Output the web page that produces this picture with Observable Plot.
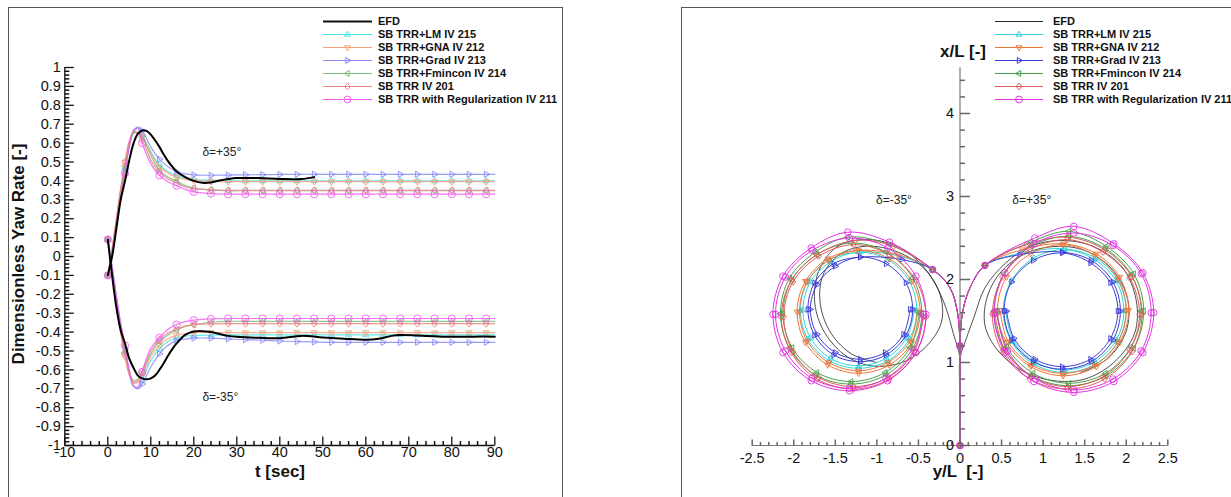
<!DOCTYPE html>
<html><head><meta charset="utf-8">
<script src="https://cdn.jsdelivr.net/npm/d3@7"></script>
<script src="https://cdn.jsdelivr.net/npm/@observablehq/plot@0.6"></script>
<style>
body{margin:0;background:#fff;font-family:"Liberation Sans",Arial,sans-serif;}
#root{position:relative;width:1231px;height:497px;overflow:hidden;background:#fff;}
.frame{position:absolute;border:1.3px solid #555;box-sizing:border-box;}
.pl{position:absolute;}
.ttl{position:absolute;font-weight:bold;font-size:17px;color:#111;white-space:pre;transform:translate(-50%,-50%);}
</style></head><body><div id="root"></div>
<script>
// ---------------- DATA ----------------
const seriesNames = ["EFD","SB TRR+LM IV 215","SB TRR+GNA IV 212","SB TRR+Grad IV 213","SB TRR+Fmincon IV 214","SB TRR IV 201","SB TRR with Regularization IV 211"];

// time grid for model yaw-rate curves [sec]
const tGrid = [0,1,2,3,4,5,6,7,8,9,10,12,14,16,18,20,24,28,32,36,40,44,48,52,56,60,64,68,72,76,80,84,88,90];
const lmPos   = [-0.1,0.03,0.18,0.33,0.47,0.59,0.665,0.675,0.645,0.6,0.555,0.485,0.45,0.43,0.415,0.408,0.402,0.4,0.4,0.4,0.4,0.4,0.4,0.4,0.4,0.4,0.4,0.4,0.4,0.4,0.4,0.4,0.4,0.4];
const gnaPos  = [-0.1,0.04,0.2,0.36,0.5,0.61,0.66,0.655,0.635,0.595,0.55,0.475,0.44,0.42,0.408,0.401,0.397,0.396,0.396,0.396,0.396,0.396,0.396,0.396,0.396,0.396,0.396,0.396,0.396,0.396,0.396,0.396,0.396,0.396];
const gradPos = [-0.1,0.02,0.17,0.32,0.46,0.58,0.66,0.685,0.665,0.625,0.58,0.515,0.475,0.447,0.437,0.432,0.43,0.431,0.432,0.433,0.434,0.435,0.435,0.435,0.435,0.435,0.435,0.435,0.435,0.435,0.435,0.435,0.435,0.435];
const fminPos = [-0.1,0.03,0.19,0.34,0.48,0.59,0.65,0.655,0.63,0.585,0.535,0.455,0.42,0.4,0.375,0.362,0.352,0.348,0.348,0.348,0.348,0.348,0.348,0.348,0.348,0.348,0.348,0.348,0.348,0.348,0.348,0.348,0.348,0.348];
const trrPos  = [-0.1,0.04,0.2,0.36,0.5,0.61,0.66,0.65,0.615,0.565,0.51,0.445,0.41,0.39,0.368,0.36,0.352,0.35,0.35,0.35,0.35,0.35,0.35,0.35,0.35,0.35,0.35,0.35,0.35,0.35,0.35,0.35,0.35,0.35];
const regPos  = [-0.1,0.02,0.16,0.31,0.44,0.58,0.67,0.68,0.6,0.54,0.49,0.43,0.395,0.375,0.355,0.342,0.333,0.33,0.33,0.33,0.33,0.33,0.33,0.33,0.33,0.33,0.33,0.33,0.33,0.33,0.33,0.33,0.33,0.33];
const lmNeg   = [0.09,-0.06,-0.22,-0.37,-0.5,-0.62,-0.69,-0.695,-0.655,-0.6,-0.55,-0.49,-0.45,-0.43,-0.422,-0.418,-0.416,-0.415,-0.415,-0.415,-0.415,-0.415,-0.415,-0.415,-0.415,-0.415,-0.415,-0.415,-0.415,-0.415,-0.415,-0.415,-0.415,-0.415];
const gnaNeg  = [0.09,-0.08,-0.25,-0.41,-0.53,-0.63,-0.67,-0.665,-0.63,-0.58,-0.53,-0.47,-0.435,-0.418,-0.408,-0.403,-0.402,-0.403,-0.403,-0.403,-0.403,-0.403,-0.403,-0.403,-0.403,-0.403,-0.403,-0.403,-0.403,-0.403,-0.403,-0.403,-0.403,-0.403];
const gradNeg = [0.09,-0.05,-0.21,-0.36,-0.49,-0.61,-0.685,-0.7,-0.675,-0.63,-0.585,-0.515,-0.47,-0.445,-0.437,-0.432,-0.432,-0.436,-0.44,-0.443,-0.447,-0.45,-0.452,-0.454,-0.454,-0.454,-0.454,-0.454,-0.454,-0.454,-0.454,-0.454,-0.454,-0.454];
const fminNeg = [0.09,-0.07,-0.24,-0.39,-0.51,-0.61,-0.655,-0.65,-0.615,-0.565,-0.515,-0.45,-0.415,-0.39,-0.37,-0.36,-0.348,-0.343,-0.343,-0.343,-0.343,-0.343,-0.343,-0.343,-0.343,-0.343,-0.343,-0.343,-0.343,-0.343,-0.343,-0.343,-0.343,-0.343];
const trrNeg  = [0.09,-0.08,-0.25,-0.4,-0.52,-0.62,-0.665,-0.655,-0.61,-0.55,-0.5,-0.44,-0.405,-0.385,-0.368,-0.36,-0.356,-0.355,-0.355,-0.355,-0.355,-0.355,-0.355,-0.355,-0.355,-0.355,-0.355,-0.355,-0.355,-0.355,-0.355,-0.355,-0.355,-0.355];
const regNeg  = [0.09,-0.06,-0.21,-0.35,-0.47,-0.6,-0.685,-0.69,-0.61,-0.54,-0.485,-0.43,-0.385,-0.36,-0.345,-0.337,-0.33,-0.328,-0.328,-0.328,-0.328,-0.328,-0.328,-0.328,-0.328,-0.328,-0.328,-0.328,-0.328,-0.328,-0.328,-0.328,-0.328,-0.328];

// EFD yaw rate
const efdPosT = [0,1,2,3,4,5,6,7,8,9,10,11,12,13,14,15,16,18,20,22,24,26,28,30,35,40,45,48];
const efdPos  = [-0.1,0,0.15,0.3,0.4,0.51,0.6,0.65,0.667,0.665,0.645,0.615,0.58,0.54,0.505,0.475,0.45,0.42,0.4,0.39,0.392,0.402,0.41,0.415,0.415,0.41,0.41,0.42];
const efdNegT = [0,1,2,3,4,5,6,7,8,9,10,11,12,13,14,15,16,18,20,22,24,26,28,30,35,40,45,50,55,60,63,66,68,72,76,80,85,90];
const efdNeg  = [0.09,-0.1,-0.27,-0.39,-0.46,-0.54,-0.59,-0.63,-0.645,-0.65,-0.645,-0.63,-0.6,-0.565,-0.525,-0.49,-0.46,-0.415,-0.397,-0.395,-0.4,-0.41,-0.42,-0.425,-0.43,-0.432,-0.42,-0.428,-0.435,-0.44,-0.435,-0.42,-0.415,-0.418,-0.422,-0.425,-0.424,-0.424];

// trajectories "y/L,x/L" pairs
const trajEfdPos  = "0,0 0,0.6 0,1.05 0.08,1.3 0.17,1.55 0.3,1.9 0.55,2.2 0.85,2.4 1.21,2.47 1.6,2.4 1.95,2.15 2.12,1.75 2.1,1.35 1.85,1 1.5,0.8 1.13,0.78 0.75,0.9 0.45,1.15 0.3,1.45 0.33,1.8 0.5,2.1 0.8,2.32 1.2,2.4 1.55,2.33 1.85,2.1 2.02,1.75 2,1.38 1.78,1.05 1.45,0.88";
const trajEfdNeg  = "0,0 0,0.6 0,1.05 -0.08,1.35 -0.17,1.66 -0.3,1.95 -0.5,2.22 -0.8,2.42 -1.2,2.48 -1.5,2.38 -1.7,2.1 -1.75,1.75 -1.65,1.4 -1.4,1.1 -1.07,0.96 -0.7,1 -0.4,1.2 -0.22,1.5 -0.25,1.85 -0.45,2.15 -0.8,2.35 -1.15,2.4 -1.45,2.3 -1.65,2.05 -1.68,1.7 -1.55,1.35 -1.3,1.1 -1,1";
const trajLmPos   = "0,0 0,0.6 0,1.2 0.03,1.6 0.12,1.9 0.3,2.17 0.75,2.32 1.26,2.37 1.63,2.26 1.9,1.99 2,1.62 1.9,1.25 1.63,0.98 1.26,0.88 0.89,0.98 0.62,1.25 0.52,1.62 0.62,1.99 0.89,2.26 1.26,2.36 1.62,2.24 1.88,1.98 1.97,1.62 1.88,1.27 1.62,1.01 1.26,0.91 0.9,1.01 0.64,1.27 0.55,1.62";
const trajGnaPos  = "0,0 0,0.6 0,1.2 0.03,1.6 0.12,1.9 0.3,2.17 0.75,2.36 1.24,2.43 1.64,2.31 1.92,2.03 2.03,1.63 1.92,1.24 1.64,0.95 1.24,0.84 0.85,0.95 0.56,1.24 0.45,1.63 0.56,2.03 0.85,2.31 1.24,2.42 1.62,2.29 1.9,2.01 2,1.63 1.9,1.25 1.62,0.97 1.24,0.87 0.86,0.97 0.58,1.25 0.48,1.63";
const trajGradPos = "0,0 0,0.6 0,1.2 0.03,1.6 0.12,1.9 0.3,2.17 0.72,2.3 1.23,2.33 1.58,2.23 1.84,1.97 1.93,1.62 1.84,1.27 1.58,1.01 1.23,0.92 0.88,1.01 0.62,1.27 0.53,1.62 0.62,1.97 0.88,2.23 1.23,2.32 1.57,2.2 1.81,1.96 1.9,1.62 1.81,1.29 1.57,1.04 1.23,0.95 0.9,1.04 0.65,1.29 0.56,1.62";
const trajFminPos = "0,0 0,0.6 0,1.2 0.03,1.6 0.12,1.9 0.3,2.17 0.85,2.45 1.31,2.58 1.76,2.4 2.09,2.07 2.21,1.62 2.09,1.17 1.76,0.84 1.31,0.72 0.86,0.84 0.53,1.17 0.41,1.62 0.53,2.07 0.86,2.4 1.31,2.52 1.75,2.37 2.06,2.06 2.18,1.62 2.06,1.19 1.75,0.87 1.31,0.75 0.88,0.87 0.56,1.19 0.44,1.62";
const trajTrrPos  = "0,0 0,0.6 0,1.2 0.03,1.6 0.12,1.9 0.3,2.17 0.8,2.42 1.29,2.51 1.74,2.36 2.07,2.03 2.19,1.58 2.07,1.13 1.74,0.8 1.29,0.68 0.84,0.8 0.51,1.13 0.39,1.58 0.51,2.03 0.84,2.36 1.29,2.48 1.72,2.33 2.04,2.02 2.16,1.58 2.04,1.15 1.72,0.83 1.29,0.71 0.86,0.83 0.54,1.15 0.42,1.58";
const trajRegPos  = "0,0 0,0.6 0,1.2 0.03,1.6 0.12,1.9 0.3,2.17 0.9,2.5 1.37,2.64 1.85,2.43 2.2,2.08 2.33,1.6 2.2,1.12 1.85,0.77 1.37,0.64 0.89,0.77 0.54,1.12 0.41,1.6 0.54,2.08 0.89,2.43 1.37,2.56 1.84,2.41 2.18,2.07 2.3,1.6 2.18,1.14 1.84,0.8 1.37,0.67 0.91,0.8 0.57,1.14 0.44,1.6";
const trajLmNeg   = "0,0 0,0.6 0,1.2 -0.03,1.6 -0.12,1.9 -0.33,2.12 -0.72,2.28 -1.2,2.33 -1.57,2.24 -1.83,1.98 -1.92,1.63 -1.83,1.28 -1.57,1.02 -1.22,0.93 -0.87,1.02 -0.61,1.28 -0.52,1.63 -0.61,1.98 -0.87,2.24 -1.22,2.33 -1.56,2.21 -1.8,1.97 -1.89,1.63 -1.8,1.3 -1.56,1.05 -1.22,0.96 -0.89,1.05 -0.64,1.3 -0.55,1.63";
const trajGnaNeg  = "0,0 0,0.6 0,1.2 -0.03,1.6 -0.12,1.9 -0.33,2.12 -0.75,2.3 -1.25,2.35 -1.59,2.25 -1.86,1.98 -1.96,1.61 -1.86,1.24 -1.59,0.97 -1.22,0.87 -0.85,0.97 -0.58,1.24 -0.48,1.61 -0.58,1.98 -0.85,2.25 -1.22,2.35 -1.58,2.23 -1.84,1.97 -1.93,1.61 -1.84,1.26 -1.58,1 -1.22,0.9 -0.87,1 -0.6,1.26 -0.51,1.61";
const trajGradNeg = "0,0 0,0.6 0,1.2 -0.03,1.6 -0.12,1.9 -0.33,2.12 -0.7,2.24 -1.2,2.27 -1.52,2.19 -1.75,1.96 -1.83,1.64 -1.75,1.33 -1.52,1.09 -1.2,1.01 -0.89,1.09 -0.65,1.33 -0.57,1.64 -0.65,1.96 -0.89,2.19 -1.2,2.27 -1.5,2.16 -1.72,1.94 -1.8,1.64 -1.72,1.34 -1.5,1.12 -1.2,1.04 -0.9,1.12 -0.68,1.34 -0.6,1.64";
const trajFminNeg = "0,0 0,0.6 0,1.2 -0.03,1.6 -0.12,1.9 -0.33,2.12 -0.85,2.42 -1.35,2.51 -1.74,2.33 -2.05,2.02 -2.16,1.59 -2.05,1.17 -1.74,0.85 -1.31,0.74 -0.89,0.85 -0.57,1.17 -0.46,1.59 -0.57,2.02 -0.89,2.33 -1.31,2.44 -1.72,2.3 -2.02,2 -2.13,1.59 -2.02,1.18 -1.72,0.88 -1.31,0.77 -0.9,0.88 -0.6,1.18 -0.49,1.59";
const trajTrrNeg  = "0,0 0,0.6 0,1.2 -0.03,1.6 -0.12,1.9 -0.33,2.12 -0.8,2.4 -1.26,2.47 -1.72,2.3 -2.03,1.99 -2.15,1.55 -2.03,1.12 -1.72,0.8 -1.28,0.68 -0.85,0.8 -0.53,1.12 -0.41,1.55 -0.53,1.99 -0.85,2.3 -1.28,2.42 -1.7,2.28 -2.01,1.97 -2.12,1.55 -2.01,1.13 -1.7,0.82 -1.28,0.71 -0.86,0.82 -0.55,1.13 -0.44,1.55";
const trajRegNeg  = "0,0 0,0.6 0,1.2 -0.03,1.6 -0.12,1.9 -0.33,2.12 -0.85,2.45 -1.35,2.57 -1.79,2.38 -2.13,2.04 -2.25,1.58 -2.13,1.12 -1.79,0.78 -1.33,0.66 -0.87,0.78 -0.53,1.12 -0.41,1.58 -0.53,2.04 -0.87,2.38 -1.33,2.5 -1.78,2.35 -2.1,2.03 -2.22,1.58 -2.1,1.14 -1.78,0.81 -1.33,0.69 -0.89,0.81 -0.56,1.14 -0.44,1.58";

// tick labels
const tTicks = [-10,0,10,20,30,40,50,60,70,80,90];
const yawTicks = [1,0.9,0.8,0.7,0.6,0.5,0.4,0.3,0.2,0.1,0,-0.1,-0.2,-0.3,-0.4,-0.5,-0.6,-0.7,-0.8,-0.9,-1];
const yLTicks = [-2.5,-2,-1.5,-1,-0.5,0,0.5,1,1.5,2,2.5];
const xLTicks = [0,1,2,3,4];

// ---------------- SYMBOLS ----------------
function mk(fn){ return {draw(c,size){ const r=Math.sqrt(size/Math.PI); fn(c,r); }}; }
const symTriUp = mk((c,r)=>{c.moveTo(0,-r);c.lineTo(r*0.87,r*0.5);c.lineTo(-r*0.87,r*0.5);c.closePath();});
const symTriDown = mk((c,r)=>{c.moveTo(0,r);c.lineTo(r*0.87,-r*0.5);c.lineTo(-r*0.87,-r*0.5);c.closePath();});
const symTriRight = mk((c,r)=>{c.moveTo(r,0);c.lineTo(-r*0.5,-r*0.87);c.lineTo(-r*0.5,r*0.87);c.closePath();});
const symTriLeft = mk((c,r)=>{c.moveTo(-r,0);c.lineTo(r*0.5,-r*0.87);c.lineTo(r*0.5,r*0.87);c.closePath();});
const symDiamond = mk((c,r)=>{c.moveTo(0,-r);c.lineTo(r*0.85,0);c.lineTo(0,r);c.lineTo(-r*0.85,0);c.closePath();});
const symCircle = mk((c,r)=>{c.moveTo(r,0);c.arc(0,0,r,0,2*Math.PI);});
function tickSym(dx,dy){ return {draw(c){ c.moveTo(0,0); c.lineTo(dx,dy); }}; }

const models = [
  {name:seriesNames[1], pos:lmPos,   neg:lmNeg,   tp:trajLmPos,   tn:trajLmNeg,   lc:"#4ee3e3", rc:"#2fd3d8", sym:symTriUp},
  {name:seriesNames[2], pos:gnaPos,  neg:gnaNeg,  tp:trajGnaPos,  tn:trajGnaNeg,  lc:"#f7a07c", rc:"#ee7436", sym:symTriDown},
  {name:seriesNames[3], pos:gradPos, neg:gradNeg, tp:trajGradPos, tn:trajGradNeg, lc:"#8b8bf6", rc:"#3a3ad6", sym:symTriRight},
  {name:seriesNames[4], pos:fminPos, neg:fminNeg, tp:trajFminPos, tn:trajFminNeg, lc:"#79c27c", rc:"#46a34a", sym:symTriLeft},
  {name:seriesNames[5], pos:trrPos,  neg:trrNeg,  tp:trajTrrPos,  tn:trajTrrNeg,  lc:"#ef8383", rc:"#de5a5a", sym:symDiamond},
  {name:seriesNames[6], pos:regPos,  neg:regNeg,  tp:trajRegPos,  tn:trajRegNeg,  lc:"#f45cf4", rc:"#e232e2", sym:symCircle}
];
const parse = s => s.split(" ").map(p => { const [a,b] = p.split(",").map(Number); return {y:a, x:b}; });

const FONT = "Liberation Sans, Arial, sans-serif";
const root = document.getElementById("root");

// ---------------- LEFT PLOT ----------------
const leftMarks = [];
models.forEach(m => {
  ["pos","neg"].forEach(k => {
    const rows = tGrid.map((t,i)=>({t, v:m[k][i]}));
    leftMarks.push(Plot.line(rows, {x:"t", y:"v", stroke:m.lc, strokeWidth:1.2, strokeOpacity:0.85, curve:"catmull-rom"}));
    leftMarks.push(Plot.dot(rows.filter(d=>d.t%4===0), {x:"t", y:"v", symbol:m.sym, r:3.6, stroke:m.lc, fill:"none", strokeWidth:1, strokeOpacity:0.9}));
  });
});
leftMarks.push(Plot.line(efdPosT.map((t,i)=>({t, v:efdPos[i]})), {x:"t", y:"v", stroke:"#000", strokeWidth:2, curve:"catmull-rom"}));
leftMarks.push(Plot.line(efdNegT.map((t,i)=>({t, v:efdNeg[i]})), {x:"t", y:"v", stroke:"#000", strokeWidth:2, curve:"catmull-rom"}));
// axes
leftMarks.push(
  Plot.ruleX([-10], {stroke:"#111", strokeWidth:1.3}),
  Plot.ruleY([-1], {stroke:"#111", strokeWidth:1.3}),
  Plot.dot(tTicks, {x:d=>d, frameAnchor:"bottom", symbol:tickSym(0,-9), r:1, stroke:"#111", strokeWidth:1.3}),
  Plot.dot(d3.range(-10,90.1,2).filter(v=>v%10!==0), {x:d=>d, frameAnchor:"bottom", symbol:tickSym(0,-4.5), r:1, stroke:"#111"}),
  Plot.dot(yawTicks, {y:d=>d, frameAnchor:"left", symbol:tickSym(9,0), r:1, stroke:"#111", strokeWidth:1.3}),
  Plot.dot(d3.range(-50,51).filter(v=>v%5!==0).map(v=>v/50), {y:d=>d, frameAnchor:"left", symbol:tickSym(4.5,0), r:1, stroke:"#111"}),
  Plot.text(tTicks, {x:d=>d, frameAnchor:"bottom", dy:11, text:d=>String(d), fontSize:14.5, fill:"#111"}),
  Plot.text(yawTicks, {y:d=>d, frameAnchor:"left", dx:-4, textAnchor:"end", text:d=>String(d), fontSize:14.5, fill:"#111"}),
  Plot.text(["δ=+35°"], {x:22, y:0.55, text:d=>d, textAnchor:"start", fontSize:12, fill:"#222"}),
  Plot.text(["δ=-35°"], {x:22, y:-0.745, text:d=>d, textAnchor:"start", fontSize:12, fill:"#222"})
);
const leftPlot = Plot.plot({
  width:554, height:490, marginLeft:56.3, marginRight:67.7, marginTop:60, marginBottom:52,
  x:{domain:[-10,90], axis:null}, y:{domain:[-1,1], axis:null},
  style:{fontFamily:FONT, background:"transparent", overflow:"visible"},
  marks:leftMarks
});
leftPlot.classList.add("pl"); leftPlot.style.left="8px"; leftPlot.style.top="7px";

// ---------------- RIGHT PLOT ----------------
const rightMarks = [];
const efdRowsP = parse(trajEfdPos), efdRowsN = parse(trajEfdNeg);
rightMarks.push(Plot.line(efdRowsP, {x:"y", y:"x", stroke:"#222", strokeWidth:0.8, curve:"catmull-rom"}));
rightMarks.push(Plot.line(efdRowsN, {x:"y", y:"x", stroke:"#222", strokeWidth:0.8, curve:"catmull-rom"}));
models.forEach(m => {
  [m.tp, m.tn].forEach(s => {
    const rows = parse(s);
    rightMarks.push(Plot.line(rows, {x:"y", y:"x", stroke:m.rc, strokeWidth:1, curve:"catmull-rom"}));
    rightMarks.push(Plot.dot(rows.filter((d,i)=>i!==1 && i!==3 && i!==4), {x:"y", y:"x", symbol:m.sym, r:3.3, stroke:m.rc, fill:"none", strokeWidth:0.9}));
  });
});
rightMarks.push(
  Plot.ruleX([0], {stroke:"#7a7a7a", strokeWidth:1.2}),
  Plot.ruleY([0], {stroke:"#7a7a7a", strokeWidth:1}),
  Plot.dot(yLTicks, {x:d=>d, y:0, symbol:tickSym(0,-6), r:1, stroke:"#666"}),
  Plot.dot(d3.range(-25,26).filter(v=>v%5!==0).map(v=>v/10), {x:d=>d, y:0, symbol:tickSym(0,-3.5), r:1, stroke:"#666"}),
  Plot.dot(xLTicks, {x:0, y:d=>d, symbol:tickSym(10,0), r:1, stroke:"#666"}),
  Plot.dot(d3.range(1,23).filter(v=>v%5!==0).map(v=>v/5), {x:0, y:d=>d, symbol:tickSym(5,0), r:1, stroke:"#666"}),
  Plot.text(yLTicks, {x:d=>d, y:0, dy:13, text:d=>String(d), fontSize:14.5, fill:"#111"}),
  Plot.text(xLTicks, {x:0, y:d=>d, dx:-6, textAnchor:"end", text:d=>String(d), fontSize:14.5, fill:"#111"}),
  Plot.text(["δ=-35°"], {x:-1.01, y:2.95, text:d=>d, textAnchor:"start", fontSize:12, fill:"#222"}),
  Plot.text(["δ=+35°"], {x:0.63, y:2.95, text:d=>d, textAnchor:"start", fontSize:12, fill:"#222"})
);
const rightPlot = Plot.plot({
  width:550, height:490, marginLeft:70.7, marginRight:63.7, marginTop:60.35, marginBottom:52,
  x:{domain:[-2.5,2.5], axis:null}, y:{domain:[0,4.55], axis:null},
  style:{fontFamily:FONT, background:"transparent", overflow:"visible"},
  marks:rightMarks
});
rightPlot.classList.add("pl"); rightPlot.style.left="681px"; rightPlot.style.top="7px";

// frames
function frame(l,t,w,h){ const d=document.createElement("div"); d.className="frame"; Object.assign(d.style,{left:l+"px",top:t+"px",width:w+"px",height:h+"px"}); root.appendChild(d); }
frame(8,7,555,520); frame(681,7,600,520);
root.appendChild(leftPlot); root.appendChild(rightPlot);

// titles
function title(txt,x,y,rot){ const d=document.createElement("div"); d.className="ttl"; d.textContent=txt; d.style.left=x+"px"; d.style.top=y+"px"; if(rot) d.style.transform="translate(-50%,-50%) rotate(-90deg)"; root.appendChild(d); }
title("Dimensionless Yaw Rate [-]", 19, 254, true);
title("t [sec]", 280, 472);
title("x/L [-]", 963, 52);
title("y/L  [-]", 958, 472);

// legends
const leg = d3.select(root).append("svg").attr("width",1231).attr("height",497)
  .style("position","absolute").style("left","0px").style("top","0px").style("overflow","visible");
function legend(x0,x1,tx,colors,efdW){
  const rowsY = d3.range(7).map(i=>21.5+13*i);
  seriesNames.forEach((n,i)=>{
    const y = rowsY[i];
    const col = i===0 ? "#111" : colors[i-1];
    leg.append("line").attr("x1",x0).attr("x2",x1).attr("y1",y).attr("y2",y).attr("stroke",col).attr("stroke-width", i===0?efdW:1.2);
    if(i>0) leg.append("path").attr("d", d3.symbol(models[i-1].sym, 3.4*3.4*Math.PI)()).attr("transform",`translate(${(x0+x1)/2},${y})`).attr("fill","none").attr("stroke",col).attr("stroke-width",1);
    leg.append("text").attr("x",tx).attr("y",y).attr("dy","0.36em").attr("font-family",FONT).attr("font-weight","bold").attr("font-size",11).attr("fill","#111").text(n);
  });
}
legend(323,372,378,models.map(m=>m.lc),2);
legend(995,1043,1053,models.map(m=>m.rc),0.9);
</script></body></html>
